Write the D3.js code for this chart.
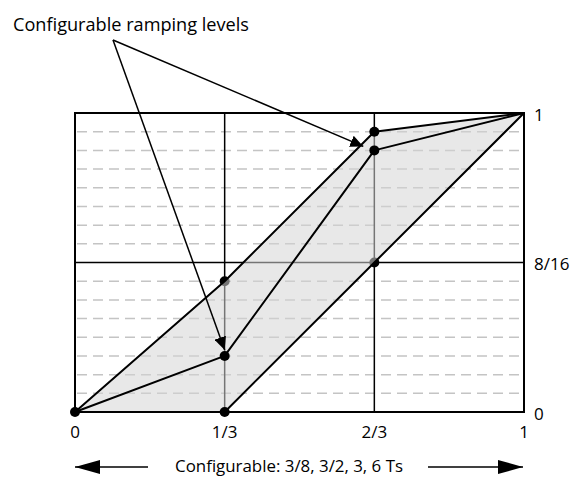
<!DOCTYPE html>
<html><head><meta charset="utf-8">
<script src="https://cdn.jsdelivr.net/npm/d3@7"></script>
<style>
html,body{margin:0;padding:0;background:#fff;}
text{font-family:"Open Sans","Noto Sans",sans-serif;fill:#000;}
</style></head>
<body>
<svg id="c" width="576" height="478"></svg>
<script>
// ---- data ----
const xTicks = [0, 1/3, 2/3, 1];
const xTickLabels = ["0", "1/3", "2/3", "1"];
const yTicks = [0, 8/16, 1];
const yTickLabels = ["0", "8/16", "1"];
const levelTicks = [1,2,3,4,5,6,7,9,10,11,12,13,14,15].map(d => d/16);
const upperLine = [[0,0],[1/3,7/16],[2/3,15/16],[1,1]];
const rampLine  = [[0,0],[1/3,3/16],[2/3,14/16],[1,1]];
const lowerLine = [[1/3,0],[2/3,8/16],[1,1]];
const shadedArea = [[0,0],[1/3,7/16],[2/3,15/16],[1,1],[2/3,8/16],[1/3,0]];
const blackDots = [[0,0],[1/3,0],[1/3,3/16],[2/3,14/16],[2/3,15/16]];
const grayDots = [[1/3,7/16],[2/3,8/16]];
const annotationTargets = [[2/3,14/16],[1/3,3/16]];
const annotationText = "Configurable ramping levels";
const bottomText = "Configurable: 3/8, 3/2, 3, 6 Ts";

// ---- layout ----
const svg = d3.select("#c");
const x = d3.scaleLinear().domain([0,1]).range([75,524]);
const y = d3.scaleLinear().domain([0,1]).range([412,113]);
const line = d3.line().x(d => x(d[0])).y(d => y(d[1]));

const defs = svg.append("defs");
defs.append("marker").attr("id","ah").attr("viewBox","0 0 10 10")
  .attr("refX",10).attr("refY",5).attr("markerWidth",13).attr("markerHeight",12)
  .attr("markerUnits","userSpaceOnUse").attr("orient","auto").attr("preserveAspectRatio","none")
  .append("path").attr("d","M0,0 L10,5 L0,10 Z").attr("fill","#000");

// dashed level lines
svg.append("g").selectAll("line").data(levelTicks).join("line")
  .attr("x1", x(0)+2).attr("x2", x(1)-2)
  .attr("y1", d => y(d)).attr("y2", d => y(d))
  .attr("stroke","#c4c4c4").attr("stroke-width",1.5).attr("stroke-dasharray","10,6");

// main grid lines
svg.append("g").selectAll("line").data([1/3,2/3]).join("line")
  .attr("x1", d => x(d)).attr("x2", d => x(d)).attr("y1", y(0)).attr("y2", y(1))
  .attr("stroke","#000").attr("stroke-width",1.5);
svg.append("line").attr("x1", x(0)).attr("x2", x(1)).attr("y1", y(0.5)).attr("y2", y(0.5))
  .attr("stroke","#000").attr("stroke-width",1.5);

// gray dots (under shading)
svg.append("g").selectAll("circle").data(grayDots).join("circle")
  .attr("cx", d => x(d[0])).attr("cy", d => y(d[1])).attr("r",5).attr("fill","#000");

// shaded area
svg.append("path").attr("d", line(shadedArea) + "Z")
  .attr("fill","rgb(214,214,214)").attr("fill-opacity",0.55);

// frame
svg.append("rect").attr("x", x(0)).attr("y", y(1)).attr("width", x(1)-x(0)).attr("height", y(0)-y(1))
  .attr("fill","none").attr("stroke","#000").attr("stroke-width",2);

// lines
[upperLine, rampLine, lowerLine].forEach(l => {
  svg.append("path").attr("d", line(l)).attr("fill","none").attr("stroke","#000").attr("stroke-width",2)
    .attr("stroke-linejoin","round");
});

// black dots
svg.append("g").selectAll("circle").data(blackDots).join("circle")
  .attr("cx", d => x(d[0])).attr("cy", d => y(d[1])).attr("r",5).attr("fill","#000");

// x tick labels
svg.append("g").selectAll("text").data(xTicks).join("text")
  .attr("x", d => x(d)).attr("y", 438).attr("text-anchor","middle").attr("font-size",17)
  .text((d,i) => xTickLabels[i]);
// y tick labels
svg.append("g").selectAll("text").data(yTicks).join("text")
  .attr("x", 534).attr("y", d => y(d)+7.5).attr("text-anchor","start").attr("font-size",17)
  .text((d,i) => yTickLabels[i]);

// annotation
svg.append("text").attr("x", 13).attr("y", 31).attr("font-size",18)
  .attr("textLength",236).attr("lengthAdjust","spacingAndGlyphs").text(annotationText);
const src = [113, 40];
const tipOffsets = [[-11,-4],[0,-6]];
annotationTargets.forEach((t,i) => {
  svg.append("line").attr("x1", src[0]).attr("y1", src[1])
    .attr("x2", x(t[0]) + tipOffsets[i][0]).attr("y2", y(t[1]) + tipOffsets[i][1])
    .attr("stroke","#000").attr("stroke-width",1.5).attr("marker-end","url(#ah)");
});

// bottom text and arrows
svg.append("text").attr("x", 289).attr("y", 472).attr("text-anchor","middle").attr("font-size",16)
  .attr("textLength",228).attr("lengthAdjust","spacingAndGlyphs").text(bottomText);
defs.append("marker").attr("id","bh").attr("viewBox","0 0 10 10")
  .attr("refX",10).attr("refY",5).attr("markerWidth",25).attr("markerHeight",14)
  .attr("markerUnits","userSpaceOnUse").attr("orient","auto").attr("preserveAspectRatio","none")
  .append("path").attr("d","M0,0 L10,5 L0,10 Z").attr("fill","#000");
svg.append("line").attr("x1",148).attr("x2",75).attr("y1",467).attr("y2",467)
  .attr("stroke","#000").attr("stroke-width",1.5).attr("marker-end","url(#bh)");
svg.append("line").attr("x1",428).attr("x2",523).attr("y1",467).attr("y2",467)
  .attr("stroke","#000").attr("stroke-width",1.5).attr("marker-end","url(#bh)");
</script>
</body></html>
